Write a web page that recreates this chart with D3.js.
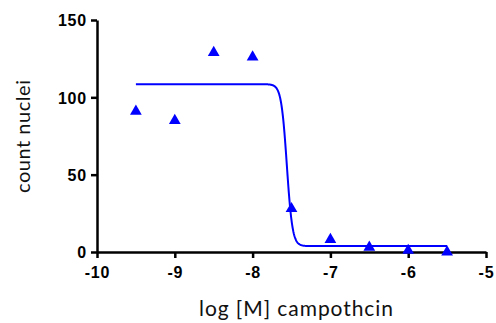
<!DOCTYPE html>
<html>
<head>
<meta charset="utf-8">
<script src="https://cdn.jsdelivr.net/npm/d3@7"></script>
<style>
  body { margin: 0; background: #fff; }
  svg { display: block; }
  .tick text { font-family: "Liberation Sans", Arial, sans-serif; font-weight: bold; font-size: 16px; letter-spacing: 0.8px; fill: #000; }
  .axisTitle { font-family: "Lato", "Open Sans", sans-serif; font-size: 21px; fill: #111; }
</style>
</head>
<body>
<svg id="chart" width="496" height="323"></svg>
<script>
// measured points
const logConc = [-9.5, -9, -8.5, -8, -7.5, -7, -6.5, -6, -5.5];
const nuclei = [91, 85, 129, 126, 28, 8, 3, 1, 0];
const xTicks = [-10, -9, -8, -7, -6, -5];
const yTicks = [0, 50, 100, 150];

// fitted curve (4PL)
const fitTop = 108.5;
const fitBottom = 3.8;
const fitLogIC50 = -7.56;
const fitHill = 12;

const margin = {left: 97, top: 20, right: 10, bottom: 71};
const svg = d3.select('#chart');
const w = 496 - margin.left - margin.right;
const h = 323 - margin.top - margin.bottom;

const x = d3.scaleLinear().domain([-10, -5]).range([0, 389]);
const y = d3.scaleLinear().domain([0, 150]).range([h, 0]);

const g = svg.append('g').attr('transform', `translate(${margin.left},${margin.top})`);

// plain hyphen for negatives, like the original
const xAxis = g.append('g').attr('transform', `translate(0,${h})`)
  .call(d3.axisBottom(x).tickValues(xTicks).tickFormat(d => String(d)).tickSize(6).tickPadding(4).tickSizeOuter(0));
const yAxis = g.append('g')
  .call(d3.axisLeft(y).tickValues(yTicks).tickSize(6).tickPadding(4).tickSizeOuter(0));
[xAxis, yAxis].forEach(a => {
  a.select('.domain').attr('stroke', '#000').attr('stroke-width', 2.5);
  a.selectAll('.tick line').attr('stroke', '#000').attr('stroke-width', 2.5);
});
xAxis.selectAll('.tick text').attr('dy', '1em');
yAxis.selectAll('.tick text').attr('dy', '0.36em');

// curve
const fit = v => fitBottom + (fitTop - fitBottom) / (1 + Math.pow(10, (v - fitLogIC50) * fitHill));
const curveX = d3.range(-9.5, -5.5 + 1e-9, 0.005);
g.append('path')
  .datum(curveX)
  .attr('fill', 'none')
  .attr('stroke', '#0000ff')
  .attr('stroke-width', 2)
  .attr('d', d3.line().x(d => x(d)).y(d => y(fit(d))));

// triangles
const tri = d3.symbol().type(d3.symbolTriangle).size(60);
g.selectAll('.pt').data(logConc).enter().append('path')
  .attr('class', 'pt')
  .attr('d', tri)
  .attr('fill', '#0000ff')
  .attr('transform', (d, i) => `translate(${x(d)},${y(nuclei[i])})`);

svg.append('text').attr('class', 'axisTitle')
  .attr('x', 296).attr('y', 316).attr('text-anchor', 'middle')
  .attr('textLength', 194).attr('lengthAdjust', 'spacing')
  .text('log [M] campothcin');
svg.append('text').attr('class', 'axisTitle')
  .attr('transform', 'translate(30,136.5) rotate(-90)').attr('text-anchor', 'middle')
  .style('font-size', '20px')
  .attr('textLength', 113).attr('lengthAdjust', 'spacing')
  .text('count nuclei');
</script>
</body>
</html>
